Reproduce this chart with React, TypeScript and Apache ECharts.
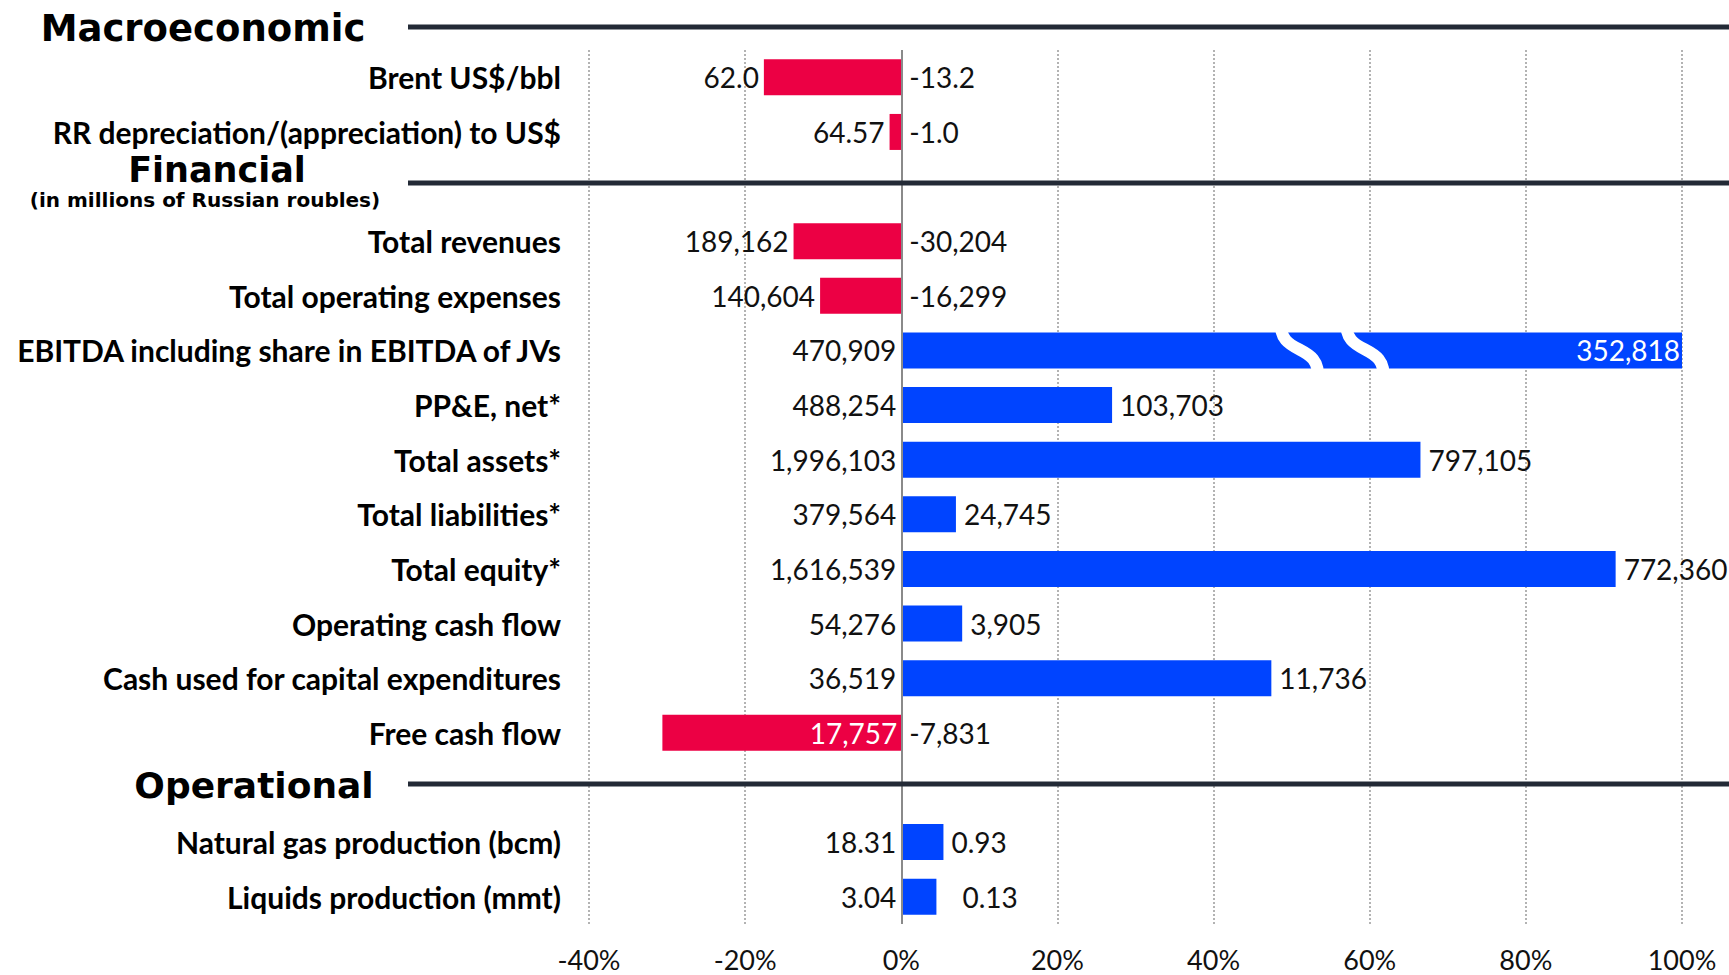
import React, { useEffect, useRef } from "react";
import * as echarts from "echarts";

// ---- data ----
const categories = [
  "Brent US$/bbl",
  "RR depreciation/(appreciation) to US$",
  " ",
  "Total revenues",
  "Total operating expenses",
  "EBITDA including share in EBITDA of JVs",
  "PP&E, net*",
  "Total assets*",
  "Total liabilities*",
  "Total equity*",
  "Operating cash flow",
  "Cash used for capital expenditures",
  "Free cash flow",
  "  ",
  "Natural gas production (bcm)",
  "Liquids production (mmt)",
];

// percentage change (bar length)
const pctChange: (number | null)[] = [
  -17.6, -1.5, null, -13.8, -10.4, 298.8, 27.0, 66.5, 7.0, 91.5, 7.8, 47.4, -30.6, null, 5.4, 4.5,
];

// current-period values (label on the left / inside)
const currentText = [
  "62.0", "64.57", "", "189,162", "140,604", "470,909", "488,254", "1,996,103",
  "379,564", "1,616,539", "54,276", "36,519", "17,757", "", "18.31", "3.04",
];

// absolute change (label on the right / inside)
const changeText = [
  "-13.2", "-1.0", "", "-30,204", "-16,299", "352,818", "103,703", "797,105",
  "24,745", "772,360", "3,905", "11,736", "-7,831", "", "0.93", "0.13",
];

const sectionTitles = ["Macroeconomic", "Financial", "Operational"];
const financialNote = "(in millions of Russian roubles)";

const AXIS_MIN = -0.4;
const AXIS_MAX = 1.0;
const AXIS_STEP = 0.2;

const RED = "#EC0044";
const BLUE = "#0044FF";
const RULE = "#232A36";
const FONT = "Lato";
const HEAD_FONT = "'DejaVu Sans'";

const EBITDA_IDX = 5;
const FCF_IDX = 12;
const LIQ_IDX = 15;

export default function App() {
  const ref = useRef<HTMLDivElement>(null);

  useEffect(() => {
    document.body.style.margin = "0";
    if (!ref.current) return;
    const chart = echarts.init(ref.current, null, { renderer: "svg" });

    const mainData = pctChange.map((p, i) => {
      if (p === null) return "-";
      const item: any = {
        value: Math.min(p / 100, AXIS_MAX),
        itemStyle: { color: p < 0 ? RED : BLUE },
      };
      if (i === EBITDA_IDX) item.label = { position: "insideRight", color: "#fff", distance: 2 };
      if (i === LIQ_IDX) item.label = { distance: 26 };
      return item;
    });

    const overlayData = pctChange.map((p, i) => {
      if (p === null) return "-";
      const item: any = { value: Math.min(p / 100, AXIS_MAX) };
      if (i === FCF_IDX) item.label = { position: "insideRight", color: "#fff", distance: 4 };
      return item;
    });

    chart.setOption({
      animation: false,
      grid: { left: 589, right: 47, top: 50, bottom: 51, containLabel: false },
      xAxis: {
        type: "value",
        min: AXIS_MIN,
        max: AXIS_MAX,
        interval: AXIS_STEP,
        axisLine: { show: false },
        axisTick: { show: false },
        axisLabel: {
          formatter: (v: number) => `${Math.round(v * 100)}%`,
          fontFamily: FONT,
          fontSize: 27,
          color: "#111",
          margin: 22,
        },
        splitLine: { show: true, lineStyle: { type: [2, 2], color: "#9a9a9a", width: 1.5 } },
      },
      yAxis: {
        type: "category",
        inverse: true,
        data: categories,
        axisLine: { show: false },
        axisTick: { show: false },
        axisLabel: {
          fontFamily: FONT,
          fontWeight: "bold",
          fontSize: 30,
          color: "#000",
          margin: 28,
        },
        splitLine: { show: false },
      },
      series: [
        {
          type: "bar",
          data: mainData,
          barWidth: 36,
          barGap: "-100%",
          label: {
            show: true,
            position: "right",
            distance: 8,
            fontFamily: FONT,
            fontSize: 28,
            color: "#111",
            formatter: (p: any) => changeText[p.dataIndex],
          },
          markLine: {
            silent: true,
            symbol: ["none", "none"],
            label: { show: false },
            lineStyle: { color: "#8a8a8a", width: 2, type: "solid" },
            data: [{ xAxis: 0 }],
          },
        },
        {
          type: "bar",
          data: overlayData,
          barWidth: 36,
          barGap: "-100%",
          itemStyle: { color: "rgba(0,0,0,0)" },
          label: {
            show: true,
            position: "left",
            distance: 5,
            fontFamily: FONT,
            fontSize: 28,
            color: "#111",
            formatter: (p: any) => currentText[p.dataIndex],
          },
        },
      ],
    });

    // break marks on the truncated EBITDA bar
    const breaks: any[] = [];
    [0.49, 0.574].forEach((v) => {
      const pt = chart.convertToPixel({ gridIndex: 0 } as any, [v, EBITDA_IDX]) as number[];
      if (!pt) return;
      const x = pt[0];
      const y = pt[1];
      breaks.push({
        type: "bezierCurve",
        z: 100,
        shape: {
          x1: x - 3, y1: y - 30,
          cpx1: x - 6, cpy1: y + 8,
          cpx2: x + 38, cpy2: y - 10,
          x2: x + 34, y2: y + 30,
        },
        style: { stroke: "#fff", lineWidth: 12, fill: null },
      });
    });

    const heading = (text: string, x: number, y: number, size: number) => ({
      type: "text",
      x,
      y,
      z: 50,
      style: {
        text,
        font: `bold ${size}px ${HEAD_FONT}`,
        fill: "#000",
        textAlign: "center",
        textVerticalAlign: "middle",
      },
    });
    const rule = (y: number) => ({
      type: "line",
      z: 50,
      shape: { x1: 408, y1: y, x2: 1729, y2: y },
      style: { stroke: RULE, lineWidth: 5 },
    });

    chart.setOption({
      graphic: [
        rule(27),
        rule(183),
        rule(784),
        heading(sectionTitles[0], 203, 28, 37),
        heading(sectionTitles[1], 217, 170, 35),
        heading(financialNote, 205, 200, 20),
        heading(sectionTitles[2], 254, 785, 36),
        ...breaks,
      ],
    });

    return () => chart.dispose();
  }, []);

  return <div ref={ref} style={{ width: 1729, height: 975 }} />;
}
